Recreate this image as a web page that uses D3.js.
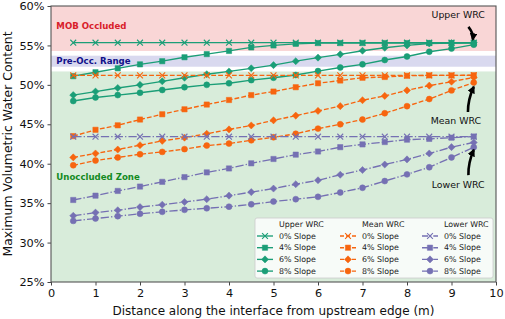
<!DOCTYPE html>
<head>
    <script src="https://d3js.org/d3.v7.min.js"></script>
    <style>
        body { margin: 0; background: #fff; }
        text { font-family: "DejaVu Sans", sans-serif; }
    </style>
</head>

<body>
    <div id="chart"></div>
</body>

<script>
    const width = 505,
        height = 319,
        margin = {top: 6, right: 9, bottom: 37, left: 51};

    // distance along interface (m)
    const distance = [0.5, 1, 1.5, 2, 2.5, 3, 3.5, 4, 4.5, 5, 5.5, 6, 6.5, 7, 7.5, 8, 8.5, 9, 9.5];

    const slopes = ['0% Slope', '4% Slope', '6% Slope', '8% Slope'];
    const groupNames = ['Upper WRC', 'Mean WRC', 'Lower WRC'];

    // upper WRC
    const upper0 = [55.35, 55.35, 55.35, 55.35, 55.35, 55.35, 55.35, 55.35, 55.35, 55.35, 55.35, 55.35, 55.35, 55.35, 55.35, 55.35, 55.35, 55.35, 55.35];
    const upper4 = [51.1, 51.6, 52.1, 52.6, 53.0, 53.5, 53.9, 54.3, 54.75, 55.0, 55.2, 55.3, 55.3, 55.3, 55.3, 55.3, 55.3, 55.3, 55.3];
    const upper6 = [48.7, 49.15, 49.6, 50.0, 50.45, 50.9, 51.35, 51.7, 52.1, 52.5, 53.0, 53.45, 53.87, 54.33, 54.7, 55.0, 55.25, 55.3, 55.35];
    const upper8 = [47.95, 48.4, 48.7, 49.0, 49.35, 49.7, 50.0, 50.2, 50.6, 50.9, 51.25, 51.75, 52.2, 52.6, 53.15, 53.6, 54.2, 54.6, 55.1];

    // mean WRC
    const mean0 = [51.2, 51.2, 51.2, 51.2, 51.2, 51.2, 51.2, 51.2, 51.2, 51.2, 51.2, 51.2, 51.2, 51.2, 51.2, 51.2, 51.2, 51.2, 51.2];
    const mean4 = [43.5, 44.3, 44.87, 45.6, 46.27, 46.9, 47.5, 48.08, 48.7, 49.15, 49.7, 50.2, 50.55, 50.9, 51.0, 51.15, 51.2, 51.2, 51.22];
    const mean6 = [40.8, 41.3, 41.8, 42.35, 42.9, 43.3, 43.8, 44.35, 44.85, 45.5, 46.1, 46.7, 47.3, 48.05, 48.6, 49.3, 49.9, 50.4, 50.95];
    const mean8 = [39.8, 40.4, 40.8, 41.2, 41.5, 41.85, 42.3, 42.55, 42.97, 43.35, 43.8, 44.45, 45.0, 45.6, 46.4, 47.3, 48.2, 49.3, 50.3];

    // lower WRC
    const lower0 = [43.43, 43.43, 43.43, 43.43, 43.43, 43.43, 43.43, 43.43, 43.43, 43.43, 43.43, 43.43, 43.43, 43.43, 43.43, 43.43, 43.43, 43.43, 43.43];
    const lower4 = [35.4, 35.95, 36.55, 37.1, 37.7, 38.3, 38.9, 39.4, 40.05, 40.6, 41.15, 41.55, 42.1, 42.45, 42.75, 43.05, 43.15, 43.3, 43.45];
    const lower6 = [33.4, 33.8, 34.1, 34.5, 34.8, 35.15, 35.5, 35.95, 36.4, 36.85, 37.4, 37.9, 38.6, 39.2, 39.9, 40.55, 41.3, 42.1, 42.7];
    const lower8 = [32.75, 33.05, 33.35, 33.65, 33.9, 34.15, 34.35, 34.55, 34.85, 35.2, 35.5, 35.8, 36.35, 36.95, 37.8, 38.65, 39.55, 40.8, 42.1];

    // shaded zones [from, to] in %
    const zoneMOB = [54.3, 60];
    const zonePreOcc = [52.3, 53.7];
    const zoneUnocc = [25, 51.7];

    const xTicks = [0, 1, 2, 3, 4, 5, 6, 7, 8, 9, 10];
    const yTicks = [25, 30, 35, 40, 45, 50, 55, 60];

    const groups = [
        {name: groupNames[0], color: '#1b9e77', dash: null,          series: [upper0, upper4, upper6, upper8]},
        {name: groupNames[1], color: '#f7650f', dash: '4.8,2.1',     series: [mean0, mean4, mean6, mean8]},
        {name: groupNames[2], color: '#7570b3', dash: '8.3,2.1,1.3,2.1', series: [lower0, lower4, lower6, lower8]}
    ];

    const symbols = [
        d3.symbol().type(d3.symbolX).size(24),
        d3.symbol().type(d3.symbolSquare).size(28),
        d3.symbol().type(d3.symbolDiamond2).size(32),
        d3.symbol().type(d3.symbolCircle).size(28)
    ];

    const x = d3.scaleLinear().domain([0, 10]).range([margin.left, width - margin.right]);
    const y = d3.scaleLinear().domain([25, 60]).range([height - margin.bottom, margin.top]);

    const svg = d3.select('#chart')
        .append('svg')
        .attr('width', width)
        .attr('height', height);

    // zones
    const zones = [
        {r: zoneMOB, fill: '#f9d6d6'},
        {r: zonePreOcc, fill: '#d9d9ef'},
        {r: zoneUnocc, fill: '#d8ecda'}
    ];
    svg.selectAll('rect.zone').data(zones)
        .join('rect')
        .attr('class', 'zone')
        .attr('x', x(0))
        .attr('width', x(10) - x(0))
        .attr('y', d => y(d.r[1]))
        .attr('height', d => y(d.r[0]) - y(d.r[1]))
        .attr('fill', d => d.fill);

    // zone labels
    const zoneLabels = [
        {t: 'MOB Occluded', v: 57.45, c: '#d8202a'},
        {t: 'Pre-Occ. Range', v: 53.05, c: '#10108a'},
        {t: 'Unoccluded Zone', v: 38.35, c: '#138a1f'}
    ];
    svg.selectAll('text.zone').data(zoneLabels)
        .join('text')
        .attr('class', 'zone')
        .attr('x', x(0.12))
        .attr('y', d => y(d.v))
        .attr('dy', '0.35em')
        .attr('fill', d => d.c)
        .attr('font-size', 8.6)
        .attr('font-weight', 'bold')
        .text(d => d.t);

    // lines
    const line = d3.line().x((d, i) => x(distance[i])).y(d => y(d));

    groups.forEach(g => {
        g.series.forEach((s, k) => {
            svg.append('path')
                .datum(s)
                .attr('d', line)
                .attr('fill', 'none')
                .attr('stroke', g.color)
                .attr('stroke-width', 1.35)
                .attr('stroke-dasharray', g.dash);

            svg.selectAll(null).data(s)
                .join('path')
                .attr('transform', (d, i) => `translate(${x(distance[i])},${y(d)})`)
                .attr('d', symbols[k])
                .attr('fill', g.color)
                .attr('stroke', g.color)
                .attr('stroke-width', k == 0 ? 1.1 : 0.5);
        });
    });

    // annotations with curved arrows
    svg.append('defs').append('marker')
        .attr('id', 'head')
        .attr('viewBox', '0 0 10 10')
        .attr('refX', 8).attr('refY', 5)
        .attr('markerWidth', 3).attr('markerHeight', 3)
        .attr('orient', 'auto')
        .append('path')
        .attr('d', 'M0,0L10,5L0,10z')
        .attr('fill', '#000');

    const notes = [
        {t: 'Upper WRC', tx: 9.15, tv: 58.9, from: [9.38, 57.35], to: [9.48, 55.75], bend: 3},
        {t: 'Mean WRC', tx: 9.1, tv: 45.45, from: [9.37, 46.55], to: [9.5, 49.75], bend: -3},
        {t: 'Lower WRC', tx: 9.15, tv: 37.4, from: [9.38, 38.55], to: [9.5, 41.75], bend: -3}
    ];

    svg.selectAll('text.note').data(notes)
        .join('text')
        .attr('class', 'note')
        .attr('x', d => x(d.tx))
        .attr('y', d => y(d.tv))
        .attr('dy', '0.35em')
        .attr('text-anchor', 'middle')
        .attr('font-size', 9.4)
        .attr('fill', '#111')
        .text(d => d.t);

    svg.selectAll('path.arrow').data(notes)
        .join('path')
        .attr('class', 'arrow')
        .attr('d', d => {
            const x0 = x(d.from[0]), y0 = y(d.from[1]);
            const x1 = x(d.to[0]), y1 = y(d.to[1]);
            const mx = (x0 + x1) / 2 + d.bend, my = (y0 + y1) / 2;
            return `M${x0},${y0}Q${mx},${my} ${x1},${y1}`;
        })
        .attr('fill', 'none')
        .attr('stroke', '#000')
        .attr('stroke-width', 2.6)
        .attr('marker-end', 'url(#head)');

    // axes
    const xAxis = svg.append('g')
        .attr('transform', `translate(0,${height - margin.bottom})`)
        .call(d3.axisBottom(x).tickValues(xTicks).tickSize(3.5).tickPadding(3));
    const yAxis = svg.append('g')
        .attr('transform', `translate(${margin.left},0)`)
        .call(d3.axisLeft(y).tickValues(yTicks).tickSize(3.5).tickPadding(3).tickFormat(d => d + '%'));

    [xAxis, yAxis].forEach(a => {
        a.selectAll('text').attr('font-size', 11.3).attr('fill', '#111').attr('font-family', '"DejaVu Sans", sans-serif');
        a.selectAll('line').attr('stroke', '#444');
        a.select('.domain').remove();
    });

    svg.append('rect')
        .attr('x', x(0)).attr('y', y(60))
        .attr('width', x(10) - x(0)).attr('height', y(25) - y(60))
        .attr('fill', 'none')
        .attr('stroke', '#555')
        .attr('stroke-width', 1.1);

    svg.append('text')
        .attr('x', (x(0) + x(10)) / 2)
        .attr('y', height - 4)
        .attr('text-anchor', 'middle')
        .attr('font-size', 12)
        .attr('fill', '#111')
        .text('Distance along the interface from upstream edge (m)');

    svg.append('text')
        .attr('transform', `translate(12,${(y(25) + y(60)) / 2}) rotate(-90)`)
        .attr('text-anchor', 'middle')
        .attr('font-size', 12.4)
        .attr('fill', '#111')
        .text('Maximum Volumetric Water Content');

    // legend
    const lg = svg.append('g').attr('transform', 'translate(255,218)');
    lg.append('rect')
        .attr('width', 238).attr('height', 60)
        .attr('rx', 2)
        .attr('fill', 'rgba(255,255,255,0.8)')
        .attr('stroke', '#ccc')
        .attr('stroke-width', 0.8);

    const colX = [2, 85, 167];
    groups.forEach((g, c) => {
        const col = lg.append('g').attr('transform', `translate(${colX[c]},0)`);
        col.append('text')
            .attr('x', 22).attr('y', 6.5)
            .attr('dy', '0.35em')
            .attr('font-size', 7.9)
            .attr('fill', '#222')
            .text(g.name);

        slopes.forEach((s, k) => {
            const yy = 18 + k * 11.7;
            col.append('line')
                .attr('x1', 0).attr('x2', 16)
                .attr('y1', yy).attr('y2', yy)
                .attr('stroke', g.color)
                .attr('stroke-width', 1.35)
                .attr('stroke-dasharray', g.dash ? (c == 1 ? '4,2' : '6,2,1.3,2') : null);
            col.append('path')
                .attr('transform', `translate(8,${yy})`)
                .attr('d', symbols[k])
                .attr('fill', g.color)
                .attr('stroke', g.color)
                .attr('stroke-width', k == 0 ? 1.1 : 0.5);
            col.append('text')
                .attr('x', 22).attr('y', yy)
                .attr('dy', '0.35em')
                .attr('font-size', 7.9)
                .attr('fill', '#222')
                .text(s);
        });
    });
</script>
</html>
